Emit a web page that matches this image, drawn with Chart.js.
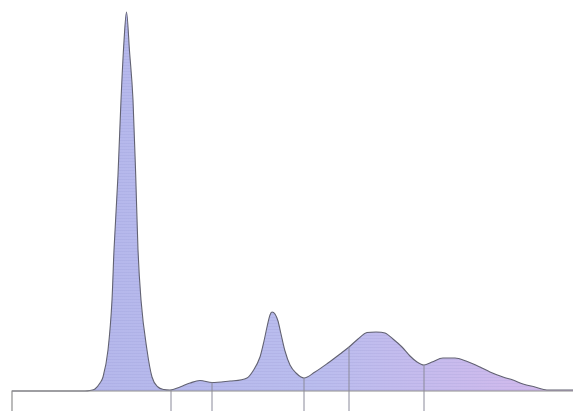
<!DOCTYPE html>
<html>
<head>
<meta charset="utf-8">
<script src="https://cdn.jsdelivr.net/npm/chart.js@4/dist/chart.umd.min.js"></script>
<style>
  html, body { margin: 0; padding: 0; background: #fff; }
  #wrap { width: 573px; height: 411px; }
</style>
</head>
<body>
<div id="wrap"><canvas id="densito"></canvas></div>
<script>
// migration position (x) and optical density (y)
const scanX = [12, 85, 90, 95, 100, 103, 108, 112, 114, 118, 121, 124, 126.5, 129.5, 133, 135.7, 138, 141, 147, 152, 158, 164, 170,
  180, 190, 200, 212, 230, 247, 253, 260, 264, 267, 270, 272, 275, 278, 281, 285, 290, 296, 304,
  315, 328, 340, 349, 358, 367, 376, 385, 393, 402, 410, 417, 424,
  432, 443, 455, 466, 480, 490, 503, 513, 523, 535, 547, 560, 573];
const scanY = [0, 0, 0.5, 2, 8, 14, 41, 91, 141, 216, 291, 350, 379, 340, 291, 216, 141, 91, 41, 14, 4, 1.5, 1,
  4, 8, 10.5, 8.5, 10, 13, 20, 34, 50, 64, 76, 79, 77, 70, 57, 40, 26, 18, 13,
  19, 28, 37, 44, 52, 58.5, 59, 58, 52, 44, 35, 29, 26,
  29, 33, 33, 30, 24, 19, 14, 11, 7, 4, 1, 1, 1];

// fraction cut positions and where each cut meets the curve
const cutX = [171, 212, 304, 349, 424];
const cutTop = [1, 8.5, 13, 44, 26];

const frameX = [12, 12, 573];
const frameY = [-20, 0, 0];

const curve = scanX.map((x, i) => ({ x: x, y: scanY[i] }));

// scanned-strip look: horizontal gradient with faint darker scanlines
const tile = document.createElement('canvas');
tile.width = 573; tile.height = 3;
const tctx = tile.getContext('2d');
const grad = tctx.createLinearGradient(0, 0, 573, 0);
grad.addColorStop(0, '#b3b5ea');
grad.addColorStop(0.55, '#babdee');
grad.addColorStop(1, '#d5b9ec');
tctx.fillStyle = grad;
tctx.fillRect(0, 0, 573, 3);
tctx.fillStyle = 'rgba(120,120,190,0.10)';
tctx.fillRect(0, 2, 573, 1);

const ctx = document.getElementById('densito').getContext('2d');
const fillPattern = ctx.createPattern(tile, 'repeat');

const datasets = [
  {
    data: curve,
    borderColor: '#626272',
    borderWidth: 1.1,
    backgroundColor: fillPattern,
    fill: 'origin',
    pointRadius: 0,
    cubicInterpolationMode: 'monotone',
    order: 2
  },
  {
    data: frameX.map((x, i) => ({ x: x, y: frameY[i] })),
    borderColor: '#8e8e8e',
    borderWidth: 1.2,
    pointRadius: 0,
    fill: false,
    tension: 0,
    order: 1
  }
];
cutX.forEach((x, i) => {
  datasets.push({
    data: [{ x: x, y: -20 }, { x: x, y: cutTop[i] }],
    borderColor: '#8a8a9a',
    borderWidth: 1,
    pointRadius: 0,
    fill: false,
    tension: 0,
    order: 1
  });
});

new Chart(ctx, {
  type: 'line',
  data: { datasets: datasets },
  options: {
    responsive: true,
    maintainAspectRatio: false,
    animation: false,
    layout: { padding: 0 },
    plugins: { legend: { display: false }, tooltip: { enabled: false } },
    scales: {
      x: { type: 'linear', min: 0, max: 573, display: false },
      y: { type: 'linear', min: -20, max: 391, display: false }
    }
  }
});
</script>
</body>
</html>
